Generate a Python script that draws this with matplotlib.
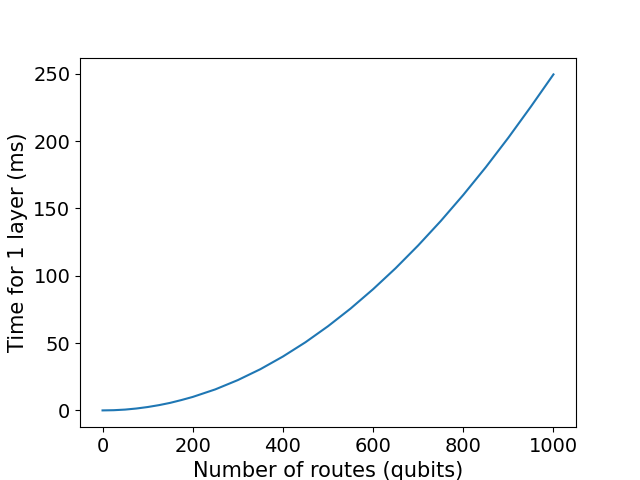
import matplotlib
matplotlib.use("Agg")
import matplotlib.pyplot as plt

routes = [0, 25, 50, 75, 100, 125, 150, 175, 200, 250, 300, 350, 400, 450, 500, 550,
          600, 650, 700, 750, 800, 850, 900, 950, 1000]
time_ms = [0.0, 0.15, 0.6, 1.4, 2.5, 3.9, 5.6, 7.7, 10.0, 15.6, 22.5, 30.6, 40.0, 50.6,
           62.5, 75.6, 90.0, 105.6, 122.5, 140.6, 160.0, 180.6, 202.5, 225.6, 249.5]

fig, ax = plt.subplots(figsize=(6.4, 4.8), dpi=100)
ax.plot(routes, time_ms, color="#1f77b4")
ax.set_xlabel("Number of routes (qubits)", fontsize=15)
ax.set_ylabel("Time for 1 layer (ms)", fontsize=15)
ax.tick_params(labelsize=14)
ax.set_xticks([0, 200, 400, 600, 800, 1000])
ax.set_yticks([0, 50, 100, 150, 200, 250])
fig.savefig("out.png")
